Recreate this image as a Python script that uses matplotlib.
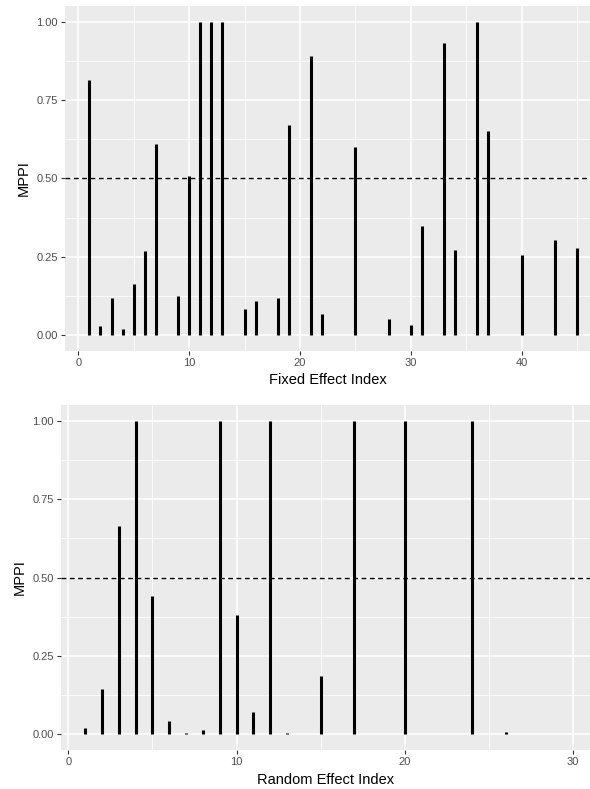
import matplotlib
matplotlib.use("Agg")
import matplotlib.pyplot as plt
from matplotlib.ticker import MultipleLocator

plt.rcParams['font.family'] = ['Liberation Sans', 'DejaVu Sans']

# Fixed effects: index and MPPI
fixed_idx = [1, 2, 3, 4, 5, 6, 7, 9, 10, 11, 12, 13, 15, 16, 18, 19, 21, 22,
             25, 28, 30, 31, 33, 34, 36, 37, 40, 43, 45]
fixed_mppi = [0.815, 0.029, 0.117, 0.018, 0.162, 0.269, 0.609, 0.123, 0.509,
              1.0, 1.0, 1.0, 0.082, 0.108, 0.119, 0.671, 0.892, 0.066,
              0.600, 0.051, 0.032, 0.349, 0.932, 0.270, 1.0, 0.652,
              0.254, 0.303, 0.277]

# Random effects: index and MPPI
random_idx = [1, 2, 3, 4, 5, 6, 7, 8, 9, 10, 11, 12, 13, 15, 16, 17, 20, 24, 26, 29]
random_mppi = [0.019, 0.144, 0.664, 1.0, 0.44, 0.043, 0.003, 0.014, 1.0, 0.381,
               0.070, 1.0, 0.003, 0.187, 0.002, 1.0, 1.0, 1.0, 0.008, 0.002]

y_ticks = [0, 0.25, 0.5, 0.75, 1.0]
y_labels = ['0.00', '0.25', '0.50', '0.75', '1.00']

fig = plt.figure(figsize=(5.9, 7.89), dpi=100)
ax1 = fig.add_axes([0.1102, 0.5555, 0.8898, 0.4369])
ax2 = fig.add_axes([0.1034, 0.0494, 0.8966, 0.4373])


def style(ax, x, y, xlim, xlabel):
    ax.set_facecolor('#EBEBEB')
    for s in ax.spines.values():
        s.set_visible(False)
    ax.set_axisbelow(True)
    ax.xaxis.set_minor_locator(MultipleLocator(5))
    ax.yaxis.set_minor_locator(MultipleLocator(0.125))
    ax.grid(which='major', color='white', linewidth=1.1)
    ax.grid(which='minor', color='white', linewidth=0.55)
    ax.vlines(x, 0, y, color='black', linewidth=2.2, capstyle='butt')
    ax.axhline(0.5, color='black', linestyle=(0, (3.5, 2.5)), linewidth=1.0)
    ax.set_xlim(*xlim)
    ax.set_ylim(-0.05, 1.05)
    ax.xaxis.set_major_locator(MultipleLocator(10))
    ax.set_yticks(y_ticks)
    ax.set_yticklabels(y_labels)
    ax.tick_params(which='major', length=3, width=0.8, color='#333333',
                   labelcolor='#4D4D4D', labelsize=8, pad=2)
    ax.tick_params(which='minor', length=0)
    ax.set_xlabel(xlabel, fontsize=10.5, color='black', labelpad=4)
    ax.set_ylabel('MPPI', fontsize=10.5, color='black', labelpad=4)


style(ax1, fixed_idx, fixed_mppi, (-1.2, 46.18), 'Fixed Effect Index')
style(ax2, random_idx, random_mppi, (-0.43, 31.0), 'Random Effect Index')

fig.savefig('out.png', dpi=100)
